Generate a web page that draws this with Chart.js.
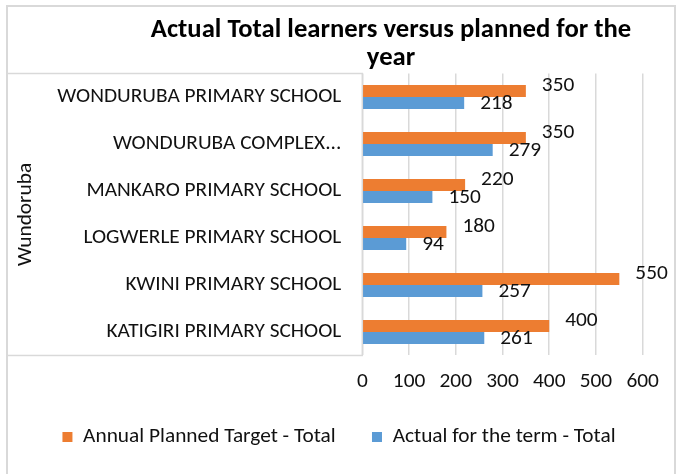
<!DOCTYPE html>
<html><head><meta charset="utf-8">
<script src="https://cdn.jsdelivr.net/npm/chart.js@4.4.1/dist/chart.umd.min.js"></script>
<style>html,body{margin:0;padding:0;background:#fff}canvas{display:block}</style>
</head><body>
<canvas id="c" width="678" height="474"></canvas>
<script>
const categories = ['WONDURUBA PRIMARY SCHOOL','WONDURUBA COMPLEX...','MANKARO PRIMARY SCHOOL','LOGWERLE PRIMARY SCHOOL','KWINI PRIMARY SCHOOL','KATIGIRI PRIMARY SCHOOL'];
const groupLabel = 'Wundoruba';
const seriesNames = ['Annual Planned Target - Total','Actual for the term - Total'];
const plannedTarget = [350,350,220,180,550,400];
const actualTerm = [218,279,150,94,257,261];
const xTickValues = [0,100,200,300,400,500,600];
const titleLines = ['Actual Total learners versus planned for the','year'];

const FONT = 'Carlito, Calibri, Lato, sans-serif';
const FS = 21.33;
const TFS = 26.67;
const TXT = '#111111';
const GRID = '#d9d9d9';

const framePlugin = {
  id: 'frame',
  beforeDraw(chart) {
    const ctx = chart.ctx, a = chart.chartArea;
    ctx.save();
    ctx.fillStyle = '#fff';
    ctx.fillRect(0, 0, chart.width, chart.height);
    ctx.strokeStyle = GRID;
    ctx.lineWidth = 2;
    ctx.strokeRect(7, 6, 668, chart.height + 10);
    ctx.lineWidth = 1.5;
    ctx.strokeRect(7, a.top, a.left - 7, a.bottom - a.top);
    ctx.restore();
  }
};

const titlePlugin = {
  id: 'titleLines',
  afterDraw(chart) {
    const ctx = chart.ctx;
    ctx.save();
    ctx.font = 'bold ' + TFS + 'px ' + FONT;
    ctx.fillStyle = '#000';
    ctx.textAlign = 'center';
    ctx.textBaseline = 'alphabetic';
    ctx.fillText(titleLines[0], 391, 36.5);
    ctx.fillText(titleLines[1], 391, 64.5);
    ctx.restore();
  }
};

const labelPlugin = {
  id: 'valueLabels',
  afterDatasetsDraw(chart) {
    const ctx = chart.ctx;
    ctx.save();
    ctx.font = FS + 'px ' + FONT;
    ctx.fillStyle = TXT;
    ctx.textAlign = 'left';
    ctx.textBaseline = 'middle';
    chart.data.datasets.forEach((ds, i) => {
      const meta = chart.getDatasetMeta(i);
      meta.data.forEach((bar, j) => {
        ctx.fillText(String(ds.data[j]), bar.x + 16, bar.y + (i === 0 ? -5 : 0.5));
      });
    });
    ctx.restore();
  }
};

new Chart(document.getElementById('c'), {
  type: 'bar',
  data: {
    labels: categories,
    datasets: [
      { label: seriesNames[0], data: plannedTarget, backgroundColor: '#ED7D31', borderWidth: 0, xAxisID: 'x', yAxisID: 'y' },
      { label: seriesNames[1], data: actualTerm, backgroundColor: '#5B9BD5', borderWidth: 0, xAxisID: 'x', yAxisID: 'y' }
    ]
  },
  options: {
    indexAxis: 'y',
    responsive: false,
    animation: false,
    devicePixelRatio: 1,
    categoryPercentage: 0.51,
    barPercentage: 1.0,
    layout: { padding: { top: 73.5, left: 0, right: 0, bottom: 16.4 } },
    plugins: {
      title: { display: false },
      tooltip: { enabled: false },
      legend: {
        position: 'bottom',
        labels: { boxWidth: 10, boxHeight: 10, padding: 36.3, color: TXT, font: { family: FONT, size: FS } }
      }
    },
    scales: {
      x: {
        type: 'linear', position: 'bottom',
        min: xTickValues[0], max: xTickValues[xTickValues.length - 1],
        ticks: { stepSize: xTickValues[1] - xTickValues[0], color: TXT, font: { family: FONT, size: FS }, padding: 13.2 },
        grid: { color: GRID, lineWidth: 1.5, drawTicks: false },
        border: { display: false },
        afterFit(s) { s.height = 34.5; }
      },
      y: {
        type: 'category', position: 'left',
        ticks: { color: TXT, font: { family: FONT, size: FS }, padding: 21 },
        grid: { display: false, drawTicks: false },
        border: { display: false },
        title: { display: true, text: groupLabel, color: TXT, font: { family: FONT, size: FS }, padding: { top: 12.7, bottom: 0 } },
        afterFit(s) { s.width = 362.3; }
      },
      y2: {
        type: 'category', position: 'right', labels: categories,
        ticks: { display: false },
        grid: { display: false, drawTicks: false },
        border: { display: false },
        afterFit(s) { s.width = 35.3; }
      }
    }
  },
  plugins: [framePlugin, titlePlugin, labelPlugin]
});
</script>
</body></html>
